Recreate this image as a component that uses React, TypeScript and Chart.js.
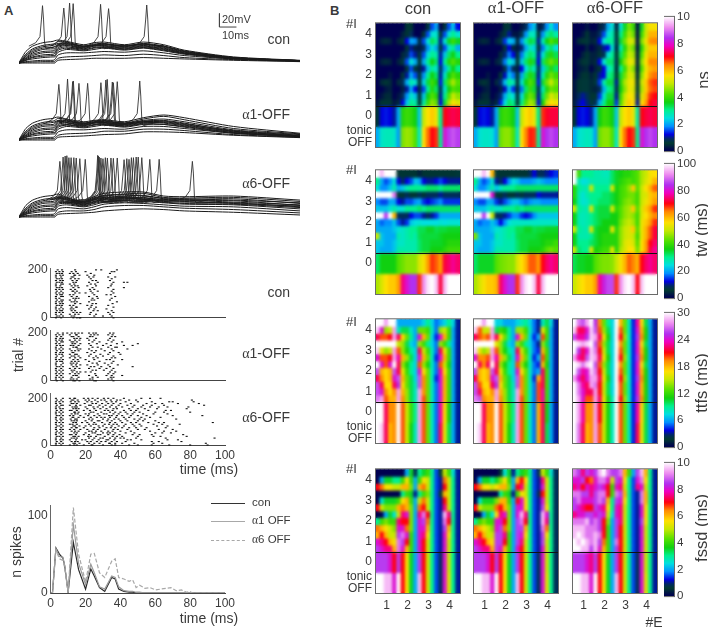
import React, { useEffect, useRef } from "react";
import { Chart, registerables } from "chart.js";
Chart.register(...registerables);

// ---------- Panel A: membrane traces (time in ms, voltage in mV) ----------
const TRACE_T = [0,1,2,4,8,14,20,21,23,28,38,44,50,62,73,85,97,126,165];
const TRACES_CON = [
  [-75,-70,-66,-58,-50,-45,-43,-42,-41,-43,-48,-45,-44,-48,-44,-48,-56,-66,-71],
  [-75,-71,-68,-62,-54,-49,-47,-46,-43,-44,-50,-47,-46,-50,-46,-50,-58,-67,-71.5],
  [-75,-72,-70,-65,-58,-53,-52,-51,-47,-46,-52,-48,-47,-51,-47,-52,-59,-67,-71.5],
  [-75,-73,-71,-68,-62,-58,-57,-56,-50,-48,-53,-50,-49,-52,-49,-53,-60,-68,-72],
  [-75,-73,-72,-70,-66,-63,-62,-61,-54,-51,-55,-52,-51,-54,-51,-55,-61,-68,-72],
  [-75,-74,-73,-71,-69,-67,-66,-66,-59,-55,-57,-55,-53,-56,-53,-57,-62,-69,-72],
  [-75,-74.5,-74,-73,-72,-71,-71,-70,-63,-60,-60,-59,-58,-59,-57,-60,-64,-69,-72],
  [-75,-75,-74.5,-74,-73.5,-73,-73,-73,-68,-66,-65,-64,-63,-64,-62,-64,-67,-70,-72.5],
  [-75,-75,-75,-75,-75,-75,-75,-75,-71,-70,-69,-68,-68,-68,-67,-68,-69,-71,-73],
  [-75,-72,-69,-64,-56,-51,-49,-48,-46,-45,-51,-49,-48,-50,-48,-50,-57,-67,-71.5],
  [-75,-73,-71,-67,-60,-55,-54,-54,-48,-47,-50,-49,-47,-49,-47,-51,-58,-67,-71.5],
  [-75,-74,-72,-69,-64,-60,-59,-59,-52,-49,-54,-50,-50,-53,-50,-54,-60,-68,-71.5],
  [-75,-74,-73,-71,-67,-65,-64,-64,-56,-53,-56,-53,-52,-55,-52,-56,-61,-68,-72],
];
const TRACES_A1 = [
  [-75,-70,-66,-58,-50,-45,-43,-42,-41,-44,-48,-46,-45,-48,-42,-38,-42,-55,-65],
  [-75,-71,-68,-62,-54,-49,-47,-46,-43,-45,-50,-47,-46,-50,-44,-40,-45,-58,-66],
  [-75,-72,-70,-65,-58,-53,-52,-51,-47,-47,-52,-49,-47,-51,-46,-44,-48,-60,-67],
  [-75,-73,-71,-68,-62,-58,-57,-56,-50,-49,-53,-50,-49,-52,-48,-47,-51,-61,-68],
  [-75,-73,-72,-70,-66,-63,-62,-61,-54,-52,-55,-52,-51,-54,-50,-49,-53,-62,-69],
  [-75,-74,-73,-71,-69,-67,-66,-66,-59,-55,-57,-55,-53,-56,-52,-52,-55,-64,-70],
  [-75,-74.5,-74,-73,-72,-71,-71,-70,-63,-60,-60,-59,-58,-59,-55,-55,-58,-65,-70],
  [-75,-75,-74.5,-74,-73.5,-73,-73,-73,-68,-66,-65,-64,-62,-62,-59,-59,-61,-67,-71],
  [-75,-75,-75,-75,-75,-75,-75,-75,-71,-70,-69,-68,-67,-66,-63,-63,-64,-68,-71.5],
  [-75,-72,-69,-64,-56,-51,-49,-48,-46,-46,-51,-48,-48,-50,-47,-46,-50,-62,-69],
  [-75,-73,-71,-67,-60,-55,-54,-54,-48,-48,-50,-49,-49,-52,-48,-48,-52,-63,-69],
  [-75,-74,-72,-69,-64,-60,-59,-59,-52,-50,-54,-50,-50,-53,-49,-50,-54,-64,-70],
  [-75,-74,-73,-71,-67,-65,-64,-64,-56,-53,-56,-53,-52,-55,-51,-52,-56,-65,-70],
];
const TRACES_A6 = [
  [-75,-70,-66,-58,-50,-45,-43,-42,-41,-46,-52,-45,-40,-38,-38,-44,-45,-44,-50],
  [-75,-71,-68,-62,-54,-49,-47,-46,-44,-47,-53,-47,-43,-41,-40,-46,-47,-46,-52],
  [-75,-72,-70,-65,-58,-53,-52,-51,-47,-49,-55,-49,-46,-44,-43,-48,-49,-48,-55],
  [-75,-73,-71,-68,-62,-58,-57,-56,-50,-52,-57,-52,-48,-46,-46,-50,-51,-51,-58],
  [-75,-73,-72,-70,-66,-63,-62,-61,-54,-54,-58,-54,-50,-48,-48,-52,-53,-54,-60],
  [-75,-74,-73,-71,-69,-67,-66,-66,-59,-57,-60,-57,-53,-51,-52,-54,-56,-57,-63],
  [-75,-74.5,-74,-73,-72,-71,-71,-70,-63,-61,-63,-60,-56,-54,-55,-57,-59,-60,-66],
  [-75,-75,-74.5,-74,-73.5,-73,-73,-73,-68,-66,-66,-64,-60,-58,-58,-60,-62,-64,-69],
  [-75,-75,-75,-75,-75,-75,-75,-75,-71,-70,-69,-68,-66,-64,-63,-64,-66,-68,-72],
  [-75,-72,-69,-64,-56,-51,-49,-48,-46,-48,-54,-48,-44,-42,-44,-47,-48,-50,-54],
  [-75,-73,-71,-67,-60,-55,-54,-54,-48,-50,-56,-50,-47,-45,-47,-49,-50,-53,-57],
  [-75,-74,-72,-69,-64,-60,-59,-59,-52,-53,-56,-53,-49,-47,-49,-51,-52,-55,-59],
  [-75,-74,-73,-71,-67,-65,-64,-64,-56,-55,-59,-55,-52,-50,-50,-53,-55,-56,-61],
];
const SPIKE_TIMES_CON = [13.8,26.3,29.7,31.8,47.9,52.6,75];
const SPIKE_PEAKS_CON = [9.8,6.3,13.7,12.8,11.8,5.4,10.8];
const SPIKE_TIMES_A1 = [23.4,28.5,31.5,31.9,35.2,40.3,48.1,51,51.8,54.8,55.4,57.7,70.9];
const SPIKE_PEAKS_A1 = [7.3,15.2,11.3,12.3,8.8,8.8,9.8,13.7,14.7,10.8,9.8,11.3,12.3];
const SPIKE_TIMES_A6 = [24,25.9,27.1,28.1,29.3,30.6,32.2,33.6,35.7,38.9,46.2,46.6,47.1,48.1,49.3,50.7,51.9,54,55.4,57.7,61.7,63.3,64.6,66,67.2,68.8,70,72.1,76.8,82.3,101.8];
const SPIKE_PEAKS_A6 = [7.3,13.7,15.2,15.7,12.8,12.8,12.8,12.3,11.3,10.3,16.2,15.2,13.7,12.3,11.3,12.8,12.3,12.3,11.8,12.3,9.8,11.3,10.3,12.8,12.8,13.7,13.7,12.8,10.3,10.3,7.3];
const SPIKE_SHAPE_DT = [-8,-4,-1.5,-0.6,0,0.6,1.2,2,5,10];
const SPIKE_SHAPE_MV = [-50,-45,-36,-10,null,-10,-44,-54,-52,-49];
const SCALE_BAR_T = [117.7,117.7,127.7];
const SCALE_BAR_MV = [-1.8,-21.8,-21.8];

// ---------- Panel A: raster, spike times (ms) by trial row ----------
const RASTER_CON = [
  [4,6.5,14,26,29,38],[3,5,7,12,14.5,20,35,36.5],[3.5,5,6.5,11,13,15.5,23,34],[3,5.5,7,13.5,14,16.5,21,25],
  [3,6,12,13,22,24.5,33,37],[3.5,5,6.5,11.5,14,16,23,35],[3,5.5,7,12.5,15,24,26,34],[3.5,5,6.5,13,14.5,22,27,36,42,44],
  [3,6,7,11,13.5,23,25.5,35],[3,5.5,12,14,15.5,21,26,34.5],[3.5,5,6.5,13,16,24,33,42],[3,5,7,11.5,14,22.5,25,36],
  [3.5,6,12.5,13,15,23,27,35],[3,5,7,14,16.5,20,24,36],[3.5,5.5,6.5,11,13,25,32,34.5],[3,6,7,12,15,22,26.5,37],
  [3,5,13,14.5,16,24,27,35],[3.5,6,7,11,14,23.5,25,34],[3,5,6.5,12,13.5,15,22,38],[3,5.5,7,14,17,24,26,35.5],
  [3.5,5,6.5,11,13,21,23.5,33],[3,6,12,14.5,15,23,26,36],[3,5,7,11.5,13,22,25,32],[3.5,5.5,6.5,12,14,24.5,27,35],
  [3,5,7,13,15,17,23,33,36],[3,6,11,14,16,22.5,26,34],[3.5,5,7,12,13.5,25,30,35],[3,6,13,15,16.5,17,36],
];
const RASTER_A1 = [
  [4,7,9.5,12,14,16,18,22,24.5,26,34,36],[3,5,7,11,14.5,15,23,25,27,33,35.5],[3.5,6,12,13,16,22.5,24,35,37],[3,5.5,7,13.5,15,17,21,26,34],
  [3,5,6.5,11,14,16.5,22,25,33,36],[3.5,6,7,12,13,15,24,28,35,41],[3,5,12.5,14,17,22,26.5,32,38,50],[3.5,5.5,7,11.5,13,16,23,30,34.5,42,47],
  [3,6,13,14.5,15,24,27,33,37,38],[3,5,7,11,15.5,17,22,29,35,44],[3.5,6,12,14,16,23.5,26,31,36],[3,5.5,7,12.5,13,21,25,34,39],
  [3,5,6.5,11,14,15,23,28.5,33,40],[3.5,7,12,13.5,16,22,26,30,36],[3,6,11,14,17,24.5,27,35,37],[3,5,7,13,15.5,20,25,32,34,41],
  [3.5,5.5,6.5,12,14,16,22,28,36],[3,7,11.5,13,15,24,26.5,31,35],[3,6,12,14.5,17,21,27,33,38.5],[3.5,5,7,13,15,23,25,29,34,47],
  [3,6,11,14,16.5,22,28,32,36],[3,5,7,12,13.5,24,26,30.5,35],[3.5,6,12.5,15,17,20,23,34,37],[3,5,7,11,14,16,25.5,33,36],
  [3.5,6,13,14.5,15,22,26,32,35,41],[3,5,7,12,16,24,27,34.5,36],[3,6,11.5,13,15,22.5,24,33,35],[3.5,7,13,14,16.5,25,26,36],
];
const RASTER_A6 = [
  [3,7,11,13.5,14,19,21.5,24,27,30.5,33,36,42,52,57,63],[3.5,6,12,13,15.5,20,22,25.5,29,31,34.5,38,40,45,49,81],[3,5,7,11.5,14,16,21,23.5,27,32,35,37.5,43,50,58,68,70,82],[3,5.5,12,13,15,19.5,24,26,29.5,33,36,40,46,55,60,64,73,85],
  [3.5,6,7,11,14.5,17,22,23,28,31.5,35,39,44,48,53,58,65,88],[3,5,12.5,14,15,20,24.5,27,30,34,37.5,41,47,52,57,62,67,79],[3,5.5,7,13,14.5,16,21,25,28.5,32,36,38,45,50,54,61,78],[3.5,6,11,12,15,19,22.5,26,31,33,35.5,42,46,49,56,66,69],
  [3,5,7,13.5,14,16,23,24.5,29,34,37,40,43,48,51,60,65,80],[3,6,12,14,15.5,20,22,27,30.5,32,36,39,44,47,53,59,67],[3.5,5,7,11,13,17,21.5,25,28,33.5,35,38,41,46,50,55,70,87],[3,6,12.5,13,16,19,23,26.5,29,31,34,37.5,42,45,52,57,63],
  [3,5.5,7,11.5,14,15,22,24,30,33,36.5,39,43,48,51,54,72],[3.5,6,12,13.5,15,20,23.5,27,28,32.5,35,40,44,50,53,60],[3,5,7,13,14.5,18,21,25,29.5,34,37,41,46,49,56,62,65,93],[3,6,11,12.5,15,22,24.5,26,31,33.5,36,38,43,47,51,59,64,74],
  [3.5,5,7,13,14,16.5,20,23,27.5,30,35,39,42,48,52,61,67],[3,6,12,14.5,15,19,25,28,32,34.5,37,41,45,49,55,66],[3,5.5,7,11,13.5,17,21,24.5,27,31,36,38.5,44,50,54,62,70],[3.5,6,12,14,16,22,23.5,26,29,33,35.5,40,46,57,65,72],
  [3,5,7,13.5,15,20,24,25.5,30,32.5,34,37,43,48,60,64,69],[3,6,11,12,14.5,19,22,27,28.5,33,36,39.5,47,51,58,76],[3.5,5,7,13,14,16,21.5,23,26,31,35.5,38,41,50,59,63,78],[3,6,12,13.5,15,22,25,28.5,30,34,37,40,42,49,66,94],
  [3,5.5,7,11,14.5,18,20,24,27.5,32,33,36.5,44,46,52,67,73],[3.5,6,12,14,15.5,21,23,26.5,29,31.5,35,38,43,58,62,75],[3,5,7,13,14,16.5,22,25,28,33.5,34,37,41,48,59,64,89],[3,6,11,13.5,15,19,23.5,24,30,35,37,45,50,58,68,80,90],
];

// ---------- Panel A: spike-count histogram ----------
const PSTH_T = [0,1,3,5,7,8,10,13,16,20,23,25,28,31,35,37,39,42,45,47,49,51,54,57,60,63,66,69,72,75,78,80,81,100];
const PSTH_CON = [0,0,58,50,45,35,1,65,30,5,31,22,7,2,20,18,5,2,1,1,0,0,0,0,0,0,0,0,0,0,0,0,0,0];
const PSTH_A1 = [0,0,57,47,46,36,1,88,38,11,37,26,8,5,22,20,8,3,2,2,1,1,0,0,0,0,0,0,0,0,0,0,0,0];
const PSTH_A6 = [0,0,55,44,42,33,1,110,50,14,50,51,26,20,41,44,20,18,15,17,7,10,6,7,4,5,6,7,3,4,1,2,0,0];

// ---------- Panel B: heat maps, top row of #I=4 down to tonic OFF ----------
const ROW_EDGES = [6,5.67,5.33,5,4.67,4.33,4,3.67,3.33,3,2.67,2.33,2,1,0];
const NS_CON = [
  [0,0,0,0,0,0,0,.5,.5,0,0,0,.5,1.5,2,0,.5,1.5,2.2,1.2],
  [0,0,0,0,0,0,.3,.5,.8,0,0,.5,1.5,2.5,2.5,.5,1.5,2.5,3,2.5],
  [0,.3,.4,.3,0,.3,.5,1.2,2,1.8,.4,1.5,2.5,3.3,3,1,2.5,3.5,4,3.5],
  [0,0,0,0,0,0,0,.5,1,.3,.2,.8,1.8,2.5,2,.5,1.5,2.5,3,2],
  [0,0,0,0,0,0,.4,.8,1.5,1,.5,1.5,2.5,3,2.8,1,2.2,3.2,3.6,3],
  [0,.3,.4,.3,0,.3,.6,1.5,2.5,2,.5,2,3,3.6,3.2,1.2,3,3.8,4.2,3.8],
  [0,0,0,0,0,0,0,.6,1.5,.6,.3,1,2.2,3,2.5,.8,2,3,3.6,3],
  [0,0,0,.2,0,0,.5,1,2,1.5,.5,1.8,3,3.6,3.2,1,2.6,3.6,4.2,3.8],
  [0,.4,.5,.4,0,.4,.8,2,2.8,2.5,.6,2.3,3.4,4,3.6,1.3,3.2,4.2,4.8,4.2],
  [0,0,.2,.3,0,0,.3,1,2,1.2,.4,1.5,3,3.8,3.2,.8,2.5,3.6,4.2,4],
  [0,.2,.4,.4,0,.2,.8,1.8,2.6,2.2,.5,2.2,3.6,4.2,3.8,1,3,4.2,5,4.6],
  [.2,.5,.5,.5,.2,.4,1.2,2.2,3,2.8,.6,2.8,4,4.6,4.3,1.2,3.4,4.8,5.5,5.2],
  [.5,1.2,1.3,1.2,1,2,3.8,4,3.9,3.6,2.2,5,5.6,5.8,5.4,3,7,7.2,7.3,7.2],
  [2,2.6,2.7,2.7,2.6,1.9,4.5,4.7,4.6,4.2,2.6,5.6,6.5,7,6.8,3,8,8.5,8.7,8.5],
];
const NS_A1 = [
  [0,0,0,0,0,0,0,.5,.6,0,0,.2,.8,1.8,2.2,.2,.8,1.8,2.5,1.8],
  [0,0,0,0,0,0,.3,.6,1,.2,.2,.7,1.8,2.7,2.6,.5,1.8,2.8,3.2,2.8],
  [0,.3,.4,.3,0,.3,.6,1.4,2.2,2,.4,1.8,2.8,3.4,3.2,1,2.7,3.6,4.2,3.8],
  [0,0,0,0,0,0,0,.6,1.2,.4,.2,.9,2,2.7,2.3,.5,1.7,2.7,3.2,2.4],
  [0,0,0,0,0,0,.4,.9,1.7,1.2,.5,1.7,2.7,3.2,3,1,2.4,3.4,3.8,3.3],
  [0,.3,.4,.3,0,.3,.7,1.7,2.6,2.2,.5,2.2,3.2,3.8,3.4,1.2,3.2,4,4.4,4],
  [0,0,0,0,0,0,0,.7,1.7,.8,.3,1.2,2.4,3.2,2.7,.8,2.2,3.2,3.8,3.2],
  [0,0,0,.2,0,0,.5,1.1,2.2,1.7,.5,2,3.2,3.8,3.4,1,2.8,3.8,4.4,4],
  [0,.4,.5,.4,0,.4,.9,2.1,3,2.7,.6,2.5,3.6,4.2,3.8,1.3,3.4,4.4,5,4.4],
  [0,0,.2,.3,0,0,.3,1.1,2.2,1.4,.4,1.7,3.2,4,3.4,.8,2.7,3.8,4.4,4.2],
  [0,.2,.4,.4,0,.2,.9,2,2.8,2.4,.5,2.4,3.8,4.4,4,1,3.2,4.4,5.2,4.8],
  [.2,.5,.5,.5,.2,.4,1.3,2.4,3.2,3,.6,3,4.2,4.8,4.5,1.2,3.6,5,5.6,5.4],
  [.5,1.2,1.3,1.2,1,2,3.8,4,3.9,3.6,2.2,5,5.6,5.8,5.4,3,6.8,7.1,7.2,7.2],
  [2,2.5,2.6,2.6,2.5,1.9,4.4,4.6,4.6,4.2,2.6,5.6,6.4,6.9,6.8,3,8,8.4,8.6,8.4],
];
const NS_A6 = [
  [0,0,0,.2,0,0,.3,.8,2,2.5,.3,2.5,3.5,4.5,4,.2,3.5,5,5.5,5.5],
  [0,0,.2,.5,.2,.2,.8,1.5,2.5,2.8,.5,3,4,4.8,4.4,.2,4,5,6,6],
  [0,.4,.5,.6,.3,.4,1.2,2.5,3,3,.8,3.4,4.4,5.2,5,.2,4.5,5.4,6.3,6.4],
  [0,0,0,.3,0,.2,.4,1,1.2,2.5,.3,2.8,3.8,4.8,4.4,.2,3.8,5,5.8,5.8],
  [0,0,.3,.5,.3,.3,.5,.8,2.5,3,.5,3.2,4.2,5,4.8,.3,4.2,5.4,6,6],
  [0,.3,.5,.6,.3,.4,1.2,2.5,3.2,3.2,.8,3.6,4.6,5.4,5.2,.3,4.6,5.6,6.4,6.4],
  [0,.2,.3,.4,0,.3,.5,1.2,2.5,3,.4,3,4,5,4.6,.3,4.2,5.4,6,6.2],
  [0,.3,.5,.5,.3,.5,1,1.2,3,3.2,.6,3.4,4.4,5.2,5,.4,4.6,5.6,6.3,6.5],
  [.2,.5,.6,.6,.4,.6,1.4,2.8,3.4,3.4,1,3.8,4.8,5.4,5.4,.5,5,5.8,6.6,6.8],
  [.2,.5,.6,.6,.4,.3,.8,2,3,3.2,.8,3.6,4.6,5.4,5.2,.6,4.8,5.8,6.5,6.7],
  [.2,.8,1,.8,.5,.5,1.4,2.6,3.4,3.4,1,4,5,5.6,5.4,.8,5.2,6,6.8,7],
  [.3,1,1.2,.9,.6,.8,2,3,3.6,3.6,1.4,4.2,5.2,5.8,5.6,1,5.6,6.2,7,7.2],
  [.5,1.2,1.3,1.2,1,2,3.6,4,3.9,3.6,2.2,5,5.6,5.8,5.4,2.8,7,7.2,7.3,7.2],
  [2,2.5,2.6,2.7,2.6,1.9,4.4,4.6,4.6,4.2,2.6,5.6,6.5,7,6.8,3,8,8.4,8.6,8.4],
];
const TW_CON = [
  [100,95,100,100,100,5,5,5,5,5,3,5,5,5,5,5,5,5,5,6],
  [30,20,15,18,25,12,8,12,15,22,20,12,10,10,12,15,12,10,10,10],
  [25,18,18,22,28,20,22,28,30,30,30,30,32,32,32,30,32,32,32,32],
  [100,100,100,100,90,5,5,8,5,5,8,5,8,8,8,10,8,8,8,8],
  [18,15,15,20,20,12,10,15,15,18,20,14,12,14,16,18,14,14,14,14],
  [22,22,22,25,28,25,25,30,30,30,32,30,32,32,32,32,32,32,32,32],
  [100,100,85,100,60,8,8,8,12,15,15,10,8,10,14,20,20,20,20,20],
  [20,16,18,18,22,15,10,14,22,24,25,24,24,24,24,25,24,25,25,25],
  [20,20,20,20,22,25,26,28,30,30,33,33,35,35,33,34,34,35,35,35],
  [50,22,20,20,20,28,26,28,30,28,33,34,34,34,34,35,36,36,36,36],
  [22,22,20,20,22,26,26,28,28,28,32,34,34,35,35,35,36,38,38,38],
  [22,20,20,20,22,28,28,28,28,28,32,34,34,36,36,36,38,40,40,40],
  [32,36,36,36,36,42,44,46,46,46,52,55,62,68,66,62,72,74,76,74],
  [48,52,56,58,58,62,75,80,84,84,68,92,98,100,96,72,95,100,100,100],
];
const TW_A1 = [
  [100,100,95,100,60,6,5,5,5,5,5,5,5,8,12,8,8,10,12,14],
  [30,20,15,18,25,10,8,12,18,24,22,18,18,18,20,22,20,18,18,18],
  [25,18,18,22,28,22,26,30,30,30,32,32,32,32,32,32,32,32,32,32],
  [100,100,100,100,80,6,5,8,5,5,8,6,8,8,8,12,10,10,10,10],
  [18,15,15,20,20,14,10,15,18,22,22,18,16,18,20,20,18,18,18,18],
  [22,22,22,25,28,26,26,30,30,30,32,30,32,32,32,32,32,32,32,32],
  [100,100,85,100,50,8,8,10,14,18,18,14,12,14,18,22,22,22,22,22],
  [20,16,18,18,22,18,12,18,24,26,26,26,26,26,26,26,26,26,26,26],
  [20,20,20,20,22,25,26,28,30,30,33,33,35,35,33,34,34,35,35,35],
  [45,22,20,20,20,28,26,28,30,28,33,34,34,34,34,35,36,36,36,36],
  [22,22,20,20,22,26,26,28,28,28,32,34,34,35,35,35,36,38,38,40],
  [22,20,20,20,22,28,28,28,28,28,32,34,34,36,36,36,38,42,44,42],
  [32,35,35,35,35,42,44,45,46,46,52,56,60,66,66,62,70,74,76,74],
  [48,52,55,58,58,60,74,80,84,84,68,92,98,100,96,72,95,100,100,100],
];
const TW_A6 = [
  [100,40,30,30,30,28,28,27,27,32,35,36,38,38,40,42,48,50,55,56],
  [100,28,24,25,28,28,28,28,28,32,35,38,40,42,40,42,48,52,55,60],
  [38,30,28,28,50,30,30,30,30,52,36,40,42,46,58,42,50,56,60,66],
  [38,28,25,28,30,30,30,32,32,34,36,40,42,44,44,40,50,52,58,60],
  [36,28,25,26,30,30,32,32,32,34,36,40,44,46,44,40,50,54,58,62],
  [50,30,28,28,52,32,34,34,34,52,38,42,46,48,58,42,52,58,62,68],
  [36,28,27,28,30,32,34,34,34,36,36,42,46,48,46,40,52,56,60,64],
  [36,28,27,28,30,32,34,36,36,36,36,44,48,50,48,40,54,58,62,68],
  [50,30,28,28,52,34,36,36,36,54,38,46,50,52,58,42,54,60,66,72],
  [36,28,28,28,30,34,36,38,38,38,38,46,50,52,50,40,54,60,66,72],
  [36,30,30,30,32,34,36,38,38,38,38,46,52,54,52,42,56,62,70,74],
  [50,32,30,30,52,36,38,40,40,54,38,48,52,56,56,44,56,62,72,76],
  [33,35,35,36,36,42,44,45,45,46,50,55,60,66,64,60,70,74,76,74],
  [50,54,56,58,58,62,76,82,86,86,68,92,98,100,96,70,96,100,100,100],
];
const TTFS_CON = [
  [30,30,28,30,30,6,6,6,6,6,6,7,9,7,5,6,7,9,7,3],
  [29,24,14,15,28,8,10,10,8,6,13,13,12,8,5,14,15,12,6,3],
  [22,20,20,21,28,22,17,13,9,6,24,18,13,7,4,24,18,12,6,3],
  [30,30,30,30,30,15,14,10,7,6,14,12,9,7,5,14,12,9,6,3],
  [29,16,14,15,28,20,14,11,9,7,22,15,12,8,5,22,16,12,6,3],
  [24,20,20,21,28,23,18,14,10,7,24,18,13,8,4,24,18,12,6,3],
  [30,24,20,24,30,22,14,11,9,7,20,14,11,8,5,20,15,11,6,3],
  [26,18,17,18,26,22,16,12,9,7,24,17,13,8,5,23,17,12,6,3],
  [22,19,17,18,24,26,18,13,10,7,26,19,13,8,4,24,18,12,6,3],
  [26,22,17,17,22,25,17,13,10,8,26,19,13,8,5,24,18,12,6,3],
  [26,24,19,17,19,28,18,14,10,8,28,19,13,8,5,24,18,12,6,3],
  [27,28,20,18,18,28,19,14,10,8,28,20,13,8,5,24,18,12,6,3],
  [30,30,22,19,19,30,20,15,12,9,28,20,13,8,5,23,17,11,6,3],
  [30,29,22,18,19,30,20,15,11,8,28,20,13,8,5,22,16,10,6,3],
];
const TTFS_A1 = [
  [30,30,28,30,30,7,7,6,6,6,7,8,9,7,5,3,8,10,7,3],
  [29,20,15,15,28,10,12,11,9,6,14,14,12,8,5,3,16,12,6,3],
  [22,20,19,20,28,22,17,13,9,6,24,18,13,7,4,6,20,12,6,3],
  [30,30,30,30,30,16,14,10,7,6,14,12,9,7,5,3,14,10,6,3],
  [29,16,14,15,28,20,14,11,9,7,22,15,12,8,5,4,18,12,6,3],
  [24,19,19,20,28,23,18,14,10,7,24,18,13,8,4,6,20,12,6,3],
  [30,22,19,22,30,22,14,11,9,7,20,14,11,8,5,4,18,11,6,3],
  [26,18,17,18,26,22,16,12,9,7,24,17,13,8,5,6,22,12,6,3],
  [22,18,17,18,24,26,18,13,10,7,26,19,13,8,4,18,22,12,6,3],
  [26,20,17,17,22,25,17,13,10,8,26,19,13,8,5,20,22,12,6,3],
  [26,22,18,17,19,28,18,14,10,8,28,19,13,8,5,20,23,12,6,3],
  [27,26,19,18,18,28,19,14,10,8,28,20,13,8,5,20,23,12,6,3],
  [30,30,22,19,19,30,20,15,12,9,28,20,13,8,5,18,22,11,6,3],
  [30,29,22,18,19,30,20,15,11,8,28,20,13,8,5,18,22,10,6,3],
];
const TTFS_A6 = [
  [30,27,26,28,30,25,19,13,9,7,30,18,13,8,4,23,17,10,6,3],
  [29,22,22,24,29,26,20,14,10,7,30,20,13,8,4,24,18,11,6,3],
  [26,23,23,25,29,28,22,16,11,7,30,21,14,8,4,25,19,11,6,3],
  [30,29,28,29,30,26,20,14,10,7,30,19,13,8,4,24,17,10,6,3],
  [30,25,22,24,29,27,21,15,10,7,30,20,13,8,4,24,18,11,6,3],
  [28,23,22,26,29,28,22,16,11,7,30,21,14,8,4,25,19,11,6,3],
  [30,29,27,29,30,26,20,14,10,7,30,19,13,8,4,24,17,10,6,3],
  [30,26,23,24,29,27,21,15,10,7,30,20,13,8,4,24,18,11,6,3],
  [28,24,22,24,28,28,22,16,11,7,30,21,14,8,4,25,19,11,6,3],
  [30,27,23,22,28,27,21,15,10,7,30,20,13,8,4,24,18,11,6,3],
  [30,27,24,22,22,28,21,15,10,7,30,20,13,8,4,24,18,11,6,3],
  [30,28,24,20,20,28,22,16,11,8,30,21,14,8,4,25,19,11,6,3],
  [30,28,23,19,19,28,21,15,11,8,30,20,13,8,4,23,17,10,6,3],
  [30,27,22,18,19,28,20,15,11,8,30,20,13,8,4,22,16,10,6,3],
];
const FSSD_CON = [
  [0,0,0,0,0,0,0,2,3.5,.8,3,3.5,4,3,1.5,.5,5,4,2.5,1],
  [0,2,3.5,3.5,3,3,4,5.5,4,2,4,5.5,5,3,1.5,1,6.5,5,3,1],
  [7,6.5,5.5,5.5,5,5,6,6,4.5,2,6,6.5,5,3,1.5,1,7,5,3,1],
  [0,0,0,0,0,0,3,4,3.5,1,3,4,4.5,3,1.5,.5,6,5,3,1],
  [0,2.5,3.5,3.5,3.5,4,5.5,6,4,2,5,6.5,5,3,1.5,1,7,5,3,1],
  [7,5,4.5,4.5,4.5,6,6.5,6,4.5,2,6.5,7,5,3,1.5,1,7.5,5,3,1],
  [0,0,2,3.5,2.5,5,7.5,8,4.5,2,7.5,9,7,3,1.5,1,9.5,7.5,3,1],
  [3,4,4.5,4,4,7.5,7,7,4.5,2,8,8.5,6.5,3,1.5,1,9,7,3,1],
  [6.5,6,5.5,5,4.5,8,8,6.5,4.5,2,8,8,6,3,1.5,1,8.5,6,3,1],
  [6,7,6,5,5,8.5,9,8,4,2,8,7.5,5.5,3,1.5,1,8,5.5,3,1],
  [8,7.5,7,6,5.5,9,8.5,7,4,2,8,7,5,3,1.5,1,8,5,3,1],
  [8.5,8,7.5,7.5,6,9,8,6,4,2,8,7,5,3,1.5,1,8,5,3,1],
  [8.5,8.5,8.5,8,7,8.5,7,5.5,3.5,2,8.5,7,5,3,1.5,.8,8,5,3,1],
  [10,10,9.5,9.5,8,10,7,5.5,3.5,2,9.5,7,5,3,1.5,.8,8,5.2,3,1],
];
const FSSD_A1 = [
  [0,0,0,0,0,0,.5,2.5,3.5,1,3,3.5,4,3,1.5,.8,5,4,2.5,.8],
  [0,2,3.5,3.5,3,3.5,4.5,5.5,4,2,6,7,5.5,3,1.5,1,7.5,5,3,.8],
  [7,6.5,5.5,5.5,5,5.5,6,6,4.5,2,7,7.5,5,3,1.5,1,8,5,3,.8],
  [0,0,0,0,0,0,3,4,3.5,1,4,5.5,5,3,1.5,.8,7,5,3,.8],
  [0,2.5,3.5,3.5,3.5,4.5,6,6,4,2,7,8,5.5,3,1.5,1,8,5,3,.8],
  [7,5,4.5,4.5,4.5,6.5,7,6,4.5,2,8,8,5.5,3,1.5,1,8.5,5.5,3,.8],
  [0,0,2,3.5,2.5,5.5,7.5,8,4.5,2,8,9.5,7.5,3,1.5,1,9.5,8,3,.8],
  [3,4,4.5,4,4,8,8,7,4.5,2,8.5,9,7,3,1.5,1,9.5,7.5,3,.8],
  [6.5,6,5.5,5,4.5,8,8.5,6.5,4.5,2,8.5,8.5,6,3,1.5,1,9,6.5,3,.8],
  [6,7,6,5,5,8.5,8.5,7.5,4,2,8.5,8,5.5,3,1.5,1,8.5,5.5,3,.8],
  [8,7.5,7,6,5.5,8.5,8.5,7,4,2,8.5,7.5,5,3,1.5,1,8.5,5,3,.8],
  [8.5,8,7.5,7.5,6,8.5,8,6,4,2,8,7,5,3,1.5,1,8,5,3,.8],
  [8.5,8.5,8.5,8,7,8.5,7,5.5,3.5,2,8.5,7,5,3,1.5,.8,8,5,3,.8],
  [10,10,9.5,9.5,8,10,7,5.5,3.5,2,9.5,7,5,3,1.5,.8,8,5.2,3,.8],
];
const FSSD_A6 = [
  [9,8.5,7.5,8.5,8,8.5,9.5,10,9,8.5,8.5,9,6,4,2,8.5,9.5,6,3,1],
  [8,8,8.5,7,6.5,8,9,9,8,5,8.5,8,5.5,3,1.5,8,9,5.5,3,1],
  [7.5,8,7,8,7.5,8,8.5,8,7,4,8,7.5,5,3,1.5,7.5,8,5,3,1],
  [9,9,8.5,8.5,7.5,8.5,9,9,7,4,9,8.5,6,3,1.5,1,9,6,3,1],
  [8.5,9,8,8,8,8.5,9,8.5,6,3,8.5,8,5.5,3,1.5,1,9,6,3,1],
  [8.5,8,7.5,7,7,8.5,8,7.5,5.5,3,8,7.5,5,3,1.5,1,8,5.5,3,1],
  [7.5,8,8,8.5,8.5,8,8.5,8,5,2.5,8,7.5,5,3,1.5,1,8,5.5,3,1],
  [9,9,9,9.5,8.5,9,8.5,7,4.5,2,8.5,7.5,5,3,1.5,1,8.5,5.5,3,1],
  [9.5,9.5,9.5,9,9,9,8.5,7,4,2,8.5,7,5,3,1.5,1,8,5,3,1],
  [9.5,10,9.5,9,9,9.5,9,7,4,2,8.5,7,5,3,1.5,1,8,5,3,1],
  [10,9.5,10,9.5,9,9.5,8.5,6.5,4,2,9,7,5,3,1.5,1,8,5,3,1],
  [10,10,9.5,9.5,8.5,9.5,8,6,4,2,8.5,7,5,3,1.5,1,8,5,3,1],
  [8.5,8.5,8.5,8,7.5,8.5,7,5.5,3.5,2,8.5,7,5,3,1.5,.8,8,5,3,1],
  [10,10,9.5,9.5,8,10,7,5.5,3.5,2,9.5,7,5,3,1.5,.8,8,5.2,3,1],
];
const COLOR_STOPS: [number, string][] = [
  [0,"#000050"],[.055,"#003a30"],[.085,"#002a60"],[.12,"#0000e0"],[.18,"#0090ff"],[.24,"#00dfe0"],[.3,"#00f090"],
  [.36,"#10d010"],[.42,"#50e000"],[.5,"#c8e800"],[.56,"#ffe000"],[.64,"#ff8800"],[.7,"#ff0010"],[.78,"#f000c0"],
  [.84,"#b030f0"],[.92,"#f090f0"],[1,"#ffffff"],
];
const Y_LABELS_FULL = ["tonic OFF","0","1","2","3","4"];
const Y_LABELS_NO_TONIC = ["","0","1","2","3","4"];
const E_LABELS = ["1","2","3","4"];
const COL_LEFT = [376,474,573];
const ROW_TOP = [21,168,317,467];
const BAR_TOP = [15,162,311,461];
const BAR_HEIGHT = [138,138,138,137];
const BAR_MAX = [10,100,30,10];
const BAR_STEP = [2,20,6,2];
const HEAT_ROWS = [
  [NS_CON,NS_A1,NS_A6],[TW_CON,TW_A1,TW_A6],[TTFS_CON,TTFS_A1,TTFS_A6],[FSSD_CON,FSSD_A1,FSSD_A6],
];
const SEPARATOR_Y = 2;

// ---------- helpers ----------
const FONT = '"Liberation Sans", Arial, sans-serif';
const INK = "#3a3a3a";
const AXIS_W = 34;

function mapColor(f: number): string {
  const v = Math.max(0, Math.min(1, f));
  for (let i = 1; i < COLOR_STOPS.length; i++) {
    if (v <= COLOR_STOPS[i][0]) {
      const [p0, c0] = COLOR_STOPS[i - 1];
      const [p1, c1] = COLOR_STOPS[i];
      const k = (v - p0) / (p1 - p0);
      const ch = (c: string, o: number) => parseInt(c.slice(o, o + 2), 16);
      const mix = (o: number) => Math.round(ch(c0, o) + (ch(c1, o) - ch(c0, o)) * k);
      return `rgb(${mix(1)},${mix(3)},${mix(5)})`;
    }
  }
  return "#ffffff";
}

const heatFrame = {
  id: "heatFrame",
  afterDatasetsDraw(chart: any, _a: any, o: any) {
    const { ctx, chartArea: a, canvas } = chart;
    if (o.blur) {
      ctx.save();
      ctx.beginPath();
      ctx.rect(a.left, a.top, a.right - a.left, a.bottom - a.top);
      ctx.clip();
      ctx.filter = `blur(${o.blur}px)`;
      ctx.drawImage(canvas, a.left, a.top, a.right - a.left, a.bottom - a.top, a.left, a.top, a.right - a.left, a.bottom - a.top);
      ctx.restore();
    }
    ctx.save();
    if (o.separator != null) {
      const y = Math.round(chart.scales.y.getPixelForValue(o.separator)) + 0.5;
      ctx.strokeStyle = "#111";
      ctx.lineWidth = 1;
      ctx.beginPath();
      ctx.moveTo(a.left, y);
      ctx.lineTo(a.right, y);
      ctx.stroke();
    }
    ctx.strokeStyle = "#6a6a6a";
    ctx.lineWidth = 1;
    ctx.strokeRect(a.left - 0.5, a.top - 0.5, a.right - a.left + 1, a.bottom - a.top + 1);
    ctx.restore();
  },
};

function base(extra: any) {
  return { responsive: false, animation: false, events: [], maintainAspectRatio: false, ...extra };
}
const NO_GRID = { display: false, drawTicks: false };

function heatConfig(rows: number[][], max: number, showY: string[] | null, showX: boolean) {
  const labels = rows[0].map((_, i) => String(i));
  const datasets = rows.map((row, r) => ({
    data: row.map(() => [ROW_EDGES[r + 1], ROW_EDGES[r]]),
    backgroundColor: row.map((v) => mapColor(v / max)),
    borderWidth: 0,
    inflateAmount: 0.6,
    categoryPercentage: 1,
    barPercentage: 1,
  }));
  return {
    type: "bar",
    data: { labels, datasets },
    plugins: [heatFrame],
    options: base({
      layout: { padding: { top: 8, right: 6, left: 0, bottom: 0 } },
      plugins: { legend: { display: false }, tooltip: { enabled: false }, heatFrame: { blur: 1.7, separator: SEPARATOR_Y } },
      scales: {
        x: {
          stacked: true,
          grid: NO_GRID,
          border: { display: false },
          afterFit: (s: any) => { s.height = 22; },
          ticks: {
            autoSkip: false, maxRotation: 0, padding: 5,
            color: INK, font: { family: FONT, size: 12 },
            callback: (_: any, i: number) => (showX && i % 5 === 2 ? E_LABELS[(i - 2) / 5] : ""),
          },
        },
        y: {
          min: 0, max: 6,
          grid: NO_GRID,
          border: { display: false },
          afterFit: (s: any) => { s.width = AXIS_W; },
          afterBuildTicks: (s: any) => { s.ticks = [0.5,1.5,2.5,3.5,4.5,5.5].map((value) => ({ value })); },
          ticks: {
            autoSkip: false, padding: 4,
            color: INK, font: { family: FONT, size: 12, lineHeight: 1.05 },
            callback: (v: number) => {
              if (!showY) return "";
              const t = showY[Math.floor(v)];
              return t.includes(" ") ? t.split(" ") : t;
            },
          },
        },
      },
    }),
  };
}

function colorbarConfig(max: number, step: number) {
  const levels = Array.from({ length: 120 }, (_, i) => i);
  const datasets = levels.map((i) => ({
    data: [[(i * max) / 120, ((i + 1) * max) / 120]],
    backgroundColor: mapColor((i + 0.5) / 120),
    borderWidth: 0,
    inflateAmount: 0.6,
    categoryPercentage: 1,
    barPercentage: 1,
  }));
  return {
    type: "bar",
    data: { labels: [""], datasets },
    plugins: [heatFrame],
    options: base({
      layout: { padding: { top: 8, bottom: 8, left: 0, right: 2 } },
      plugins: { legend: { display: false }, tooltip: { enabled: false }, heatFrame: { blur: 0, separator: null } },
      scales: {
        x: { stacked: true, display: false },
        y: {
          position: "right", min: 0, max,
          grid: NO_GRID,
          border: { display: false },
          afterFit: (s: any) => { s.width = 24; },
          ticks: { stepSize: step, padding: 3, color: INK, font: { family: FONT, size: 11.5 } },
        },
      },
    }),
  };
}

const zip = (t: number[], v: number[]) => t.map((x, i) => ({ x, y: v[i] }));

function traceConfig(traces: number[][], times: number[], peaks: number[], bar: boolean) {
  const line = { type: "scatter", showLine: true, pointRadius: 0, borderColor: "#1a1a1a", borderWidth: 1, tension: 0.25 };
  const datasets: any[] = traces.map((v) => ({ ...line, data: zip(TRACE_T, v) }));
  times.forEach((t, i) => {
    const vals = SPIKE_SHAPE_MV.map((m) => (m === null ? peaks[i] : m));
    datasets.push({ ...line, borderWidth: 0.9, borderColor: "#333", tension: 0, data: zip(SPIKE_SHAPE_DT.map((d) => t + d), vals) });
  });
  if (bar) datasets.push({ ...line, tension: 0, borderColor: "#444", borderWidth: 1, data: zip(SCALE_BAR_T, SCALE_BAR_MV) });
  return {
    type: "scatter",
    data: { datasets },
    options: base({
      layout: { padding: 0 },
      plugins: { legend: { display: false }, tooltip: { enabled: false } },
      scales: {
        x: { display: false, min: 0, max: 165 },
        y: { display: false, min: -79.44, max: 18.2 },
      },
    }),
  };
}

function rasterConfig(rows: number[][], maxY: number, showX: boolean) {
  const top = 200;
  const pts = rows.flatMap((ts, r) => ts.map((x) => ({ x, y: top - (r * top) / (rows.length - 1) })));
  return {
    type: "scatter",
    data: { datasets: [{ data: pts, pointStyle: "line", pointRadius: 1.05, pointBorderWidth: 1.1, pointBorderColor: "#111", pointBackgroundColor: "#111" }] },
    options: base({
      clip: false,
      layout: { padding: { top: 7, right: 16, left: 0, bottom: 0 } },
      plugins: { legend: { display: false }, tooltip: { enabled: false } },
      scales: {
        x: {
          min: 0, max: 100,
          grid: NO_GRID,
          border: { color: "#444" },
          afterFit: (s: any) => { s.height = showX ? 18 : 8; },
          ticks: { display: showX, stepSize: 20, padding: 3, maxRotation: 0, color: INK, font: { family: FONT, size: 12 } },
        },
        y: {
          min: 0, max: maxY,
          grid: NO_GRID,
          border: { color: "#666" },
          afterFit: (s: any) => { s.width = 30.7; },
          afterBuildTicks: (s: any) => { s.ticks = [{ value: 0 }, { value: 200 }]; },
          ticks: { padding: 3, color: INK, font: { family: FONT, size: 12 } },
        },
      },
    }),
  };
}

function psthConfig() {
  const ds = (v: number[], c: string, dash: number[]) => ({
    data: zip(PSTH_T, v), showLine: true, pointRadius: 0, borderColor: c, borderWidth: 1.2, borderDash: dash,
  });
  return {
    type: "scatter",
    data: { datasets: [ds(PSTH_A6, "#a8a8a8", [4, 2]), ds(PSTH_A1, "#9a9a9a", []), ds(PSTH_CON, "#2a2a2a", [])] },
    options: base({
      layout: { padding: { top: 6, right: 16, left: 0, bottom: 0 } },
      plugins: { legend: { display: false }, tooltip: { enabled: false } },
      scales: {
        x: {
          min: 0, max: 100,
          grid: NO_GRID,
          border: { color: "#444" },
          afterFit: (s: any) => { s.height = 18; },
          ticks: { stepSize: 20, padding: 3, maxRotation: 0, color: INK, font: { family: FONT, size: 12 } },
        },
        y: {
          min: 0, max: 113,
          grid: NO_GRID,
          border: { color: "#666" },
          afterFit: (s: any) => { s.width = 30.7; },
          afterBuildTicks: (s: any) => { s.ticks = [{ value: 0 }, { value: 100 }]; },
          ticks: { padding: 3, color: INK, font: { family: FONT, size: 12 } },
        },
      },
    }),
  };
}

function ChartBox({ left, top, width, height, config }: any) {
  const ref = useRef<HTMLCanvasElement>(null);
  useEffect(() => {
    const c = new Chart(ref.current as any, config());
    return () => c.destroy();
  }, []);
  return <canvas ref={ref} width={width} height={height} style={{ position: "absolute", left, top, width, height }} />;
}

function Txt({ x, y, size = 14, children, align = "center", rot, weight }: any) {
  const tx = align === "center" ? "-50%" : align === "right" ? "-100%" : "0";
  return (
    <div style={{
      position: "absolute", left: x, top: y, fontSize: size, fontWeight: weight, color: INK, whiteSpace: "nowrap", lineHeight: 1,
      transform: `translate(${tx},-50%)${rot ? ` rotate(${rot}deg)` : ""}`,
    }}>{children}</div>
  );
}

const Alpha = ({ n, tail }: any) => <><span style={{ fontFamily: '"Liberation Serif", serif' }}>α</span>{n}{tail}</>;

function Legend({ y, label, color, dashed }: any) {
  return (
    <>
      <div style={{ position: "absolute", left: 211, width: 34, top: y, borderTop: `1.3px ${dashed ? "dashed" : "solid"} ${color}` }} />
      <Txt x={252} y={y} size={11.5} align="left">{label}</Txt>
    </>
  );
}

export default function App() {
  const titles = [<>con</>, <Alpha n="1" tail="-OFF" />, <Alpha n="6" tail="-OFF" />];
  const barTitles = ["ns", "tw (ms)", "ttfs (ms)", "fssd (ms)"];
  const barTitleY = [80, 230, 383, 528];
  return (
    <div style={{ position: "absolute", left: 0, top: 0, width: 708, height: 627, overflow: "hidden", background: "#fff", fontFamily: FONT, filter: "blur(0.3px)" }}>
      <ChartBox left={19} top={0} width={281} height={66} config={() => traceConfig(TRACES_CON, SPIKE_TIMES_CON, SPIKE_PEAKS_CON, true)} />
      <ChartBox left={19} top={77} width={281} height={66} config={() => traceConfig(TRACES_A1, SPIKE_TIMES_A1, SPIKE_PEAKS_A1, false)} />
      <ChartBox left={19} top={154} width={281} height={66} config={() => traceConfig(TRACES_A6, SPIKE_TIMES_A6, SPIKE_PEAKS_A6, false)} />

      <ChartBox left={20} top={258} width={221} height={70} config={() => rasterConfig(RASTER_CON, 207, false)} />
      <ChartBox left={20} top={320} width={221} height={71} config={() => rasterConfig(RASTER_A1, 212, false)} />
      <ChartBox left={20} top={383} width={221} height={80} config={() => rasterConfig(RASTER_A6, 222, true)} />
      <ChartBox left={20} top={495} width={221} height={116} config={psthConfig} />

      {HEAT_ROWS.map((panels, r) => panels.map((rows, c) => (
        <ChartBox key={`${r}-${c}`} left={COL_LEFT[c] - AXIS_W} top={ROW_TOP[r] - 8} width={AXIS_W + 90} height={156}
          config={() => heatConfig(rows, BAR_MAX[r], c !== 0 ? null : (r === 1 ? Y_LABELS_NO_TONIC : Y_LABELS_FULL), r === 3)} />
      )))}
      {BAR_TOP.map((t, r) => (
        <ChartBox key={`b${r}`} left={664} top={t - 8} width={36} height={BAR_HEIGHT[r] + 16}
          config={() => colorbarConfig(BAR_MAX[r], BAR_STEP[r])} />
      ))}

      <Txt x={4} y={10} size={13} align="left" weight="bold">A</Txt>
      <Txt x={330} y={10} size={13} align="left" weight="bold">B</Txt>
      <Txt x={222} y={19} size={11} align="left">20mV</Txt>
      <Txt x={222} y={35} size={11} align="left">10ms</Txt>
      <Txt x={290} y={39} align="right">con</Txt>
      <Txt x={290} y={114} align="right"><Alpha n="1" tail="-OFF" /></Txt>
      <Txt x={290} y={183} align="right"><Alpha n="6" tail="-OFF" /></Txt>
      <Txt x={290} y={292} align="right">con</Txt>
      <Txt x={290} y={353} align="right"><Alpha n="1" tail="-OFF" /></Txt>
      <Txt x={290} y={417} align="right"><Alpha n="6" tail="-OFF" /></Txt>
      <Txt x={18} y={355} rot={-90}>trial #</Txt>
      <Txt x={16} y={552} rot={-90}>n spikes</Txt>
      <Txt x={209} y={469}>time (ms)</Txt>
      <Txt x={209} y={618}>time (ms)</Txt>
      <Legend y={503} label="con" color="#333" />
      <Legend y={521} label={<Alpha n="1" tail=" OFF" />} color="#a8a8a8" />
      <Legend y={540} label={<Alpha n="6" tail=" OFF" />} color="#a8a8a8" dashed />

      {titles.map((t, i) => <Txt key={i} x={COL_LEFT[i] + 42} y={8} size={16.5}>{t}</Txt>)}
      {[23, 169, 321, 468].map((y) => <Txt key={y} x={346} y={y} size={13} align="left">#I</Txt>)}
      {barTitles.map((t, i) => <Txt key={t} x={i === 0 ? 703 : 701} y={barTitleY[i]} size={16.5} rot={-90}>{t}</Txt>)}
      <Txt x={654} y={622}>#E</Txt>
    </div>
  );
}
